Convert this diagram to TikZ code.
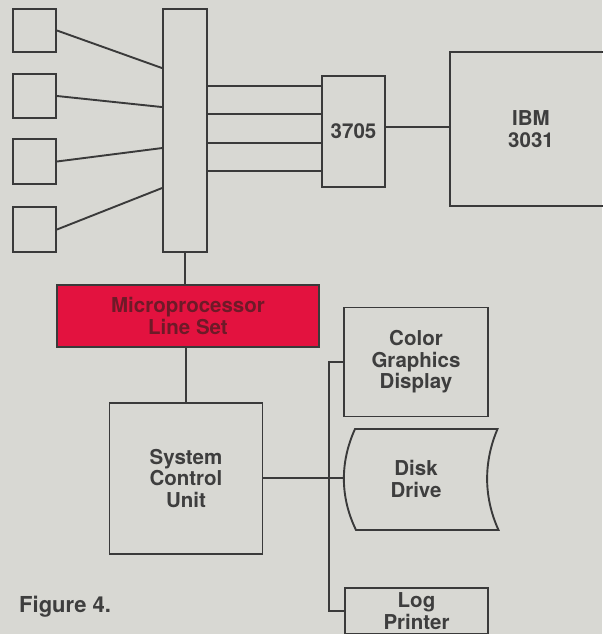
\documentclass[tikz,border=0pt]{standalone}
\usepackage{fontspec}
\setmainfont{TeX Gyre Heros}
\usetikzlibrary{calc}
\definecolor{bg}{HTML}{D8D8D3}
\definecolor{ink}{HTML}{3A3A3A}
\definecolor{txt}{HTML}{3E3E3E}
\definecolor{redfill}{HTML}{E3123F}
\definecolor{redtxt}{HTML}{6E1A28}
\tikzset{
  box/.style={draw=ink, line width=1.9pt, rectangle, inner sep=0pt, align=center,
    font=\fontsize{20.5}{21.5}\selectfont\bfseries, text=txt},
  wire/.style={draw=ink, line width=1.9pt},
}
\begin{document}
\begin{tikzpicture}[x=1pt,y=-1pt]
\fill[bg] (0,0) rectangle (602,634);
\useasboundingbox (0,0) rectangle (602,634);
% terminals
\node[box, minimum width=43pt, minimum height=43pt] (s1) at (34.5,30.5) {};
\node[box, minimum width=43pt, minimum height=44pt] (s2) at (34.5,96) {};
\node[box, minimum width=43pt, minimum height=45pt] (s3) at (34.5,161.5) {};
\node[box, minimum width=43pt, minimum height=45pt] (s4) at (34.5,229.5) {};
% concentrator bar
\node[box, minimum width=44pt, minimum height=243pt] (bar) at (185,130.5) {};
% 3705
\node[box, minimum width=63pt, minimum height=111pt] (fep) at (353.5,131.5) {3705};
% IBM 3031
\node[box, minimum width=162pt, minimum height=154pt] (ibm) at (531,129) {IBM\\3031};
% microprocessor line set
\node[box, fill=redfill, text=redtxt, minimum width=262pt, minimum height=62pt] (mls) at (188,316) {Microprocessor\\Line Set};
% system control unit
\node[box, minimum width=153pt, minimum height=151pt] (scu) at (186,478.5) {System\\Control\\Unit};
% color graphics display
\node[box, minimum width=144pt, minimum height=109pt] (cgd) at (416,362) {Color\\Graphics\\Display};
% disk drive
\node[box, draw=none, minimum width=144pt, minimum height=101pt] (disk) at (416,479) {Disk\\Drive};
\draw[wire] (355,429) -- (497.5,429) .. controls (483.5,462) and (483.5,497) .. (498.5,530)
  -- (356,530) .. controls (340,497) and (340,462) .. cycle;
% log printer
\node[box, minimum width=143pt, minimum height=46pt] (lp) at (416.5,611) {Log\\Printer};
% caption
\node[anchor=west, inner sep=0pt, font=\fontsize{22}{24}\selectfont\bfseries, text=txt] (cap) at (19,607) {Figure 4.};
% connectors: terminals to bar
\draw[wire] (s1.east) -- ($(bar.north west)+(0,60)$);
\draw[wire] (s2.east) -- ($(bar.north west)+(0,99)$);
\draw[wire] (s3.east) -- ($(bar.north west)+(0,140)$);
\draw[wire] (s4.east) -- ($(bar.north west)+(0,180)$);
% bar to 3705
\coordinate (h1) at (0,86);
\coordinate (h2) at (0,114);
\coordinate (h3) at (0,143);
\coordinate (h4) at (0,171);
\foreach \h in {h1,h2,h3,h4} \draw[wire] (bar.east |- \h) -- (fep.west |- \h);
% 3705 to IBM
\coordinate (h5) at (0,127);
\draw[wire] (fep.east |- h5) -- (ibm.west |- h5);
% bar to MLS to SCU
\draw[wire] (bar.south) -- (bar.south |- mls.north);
\draw[wire] (mls.south -| scu.north) -- (scu.north);
% SCU to peripherals
\coordinate (bus) at (329,0);
\coordinate (tap) at (0,478);
\draw[wire] (scu.east |- tap) -- (disk.west |- tap);
\draw[wire] (cgd.west) -- (bus |- cgd.west) -- (bus |- lp.west) -- (lp.west);
\end{tikzpicture}
\end{document}
